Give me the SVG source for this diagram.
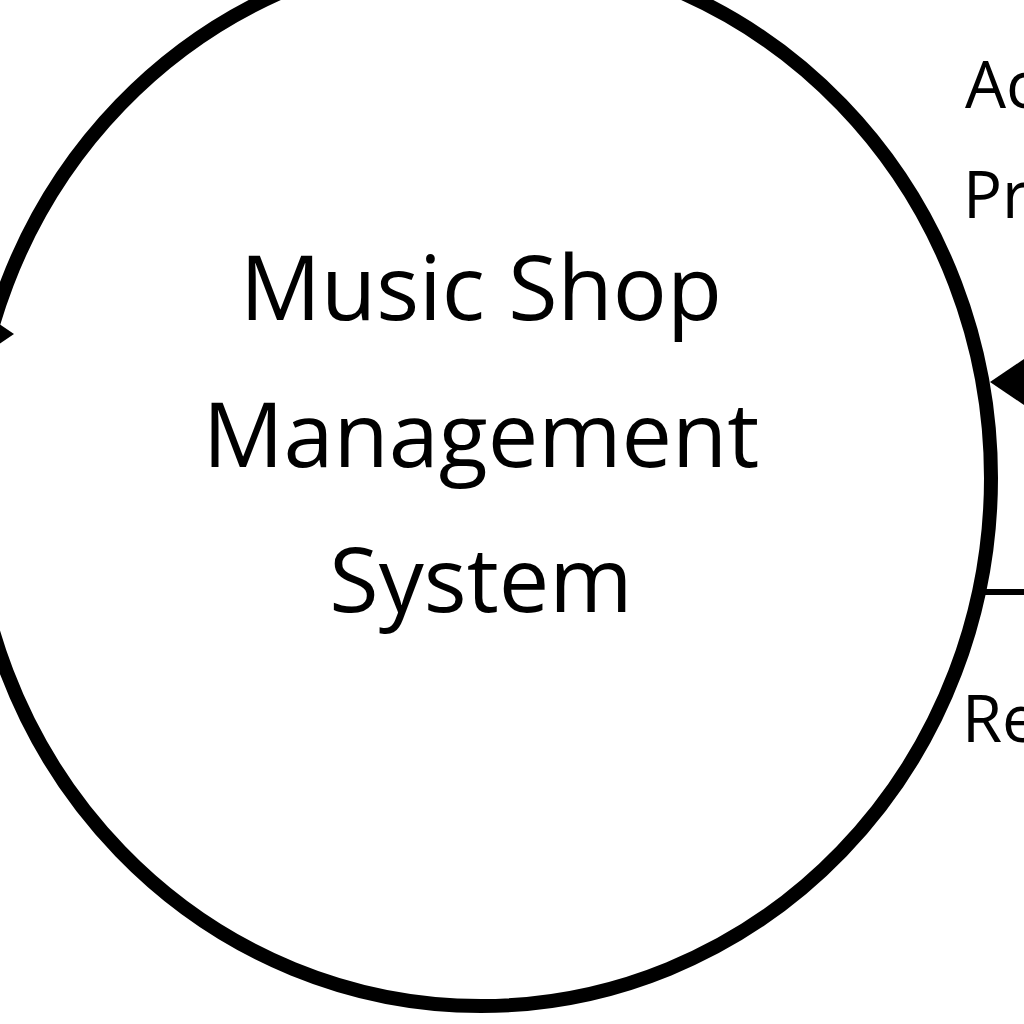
<svg xmlns="http://www.w3.org/2000/svg" width="1024" height="1024" viewBox="0 0 1024 1024">
<style>
.bg{fill:#ffffff}
.proc{fill:none;stroke:#000;stroke-width:14}
.main{font-family:"Open Sans","Liberation Sans",sans-serif;font-size:90px;fill:#000;text-anchor:middle}
.lbl{font-family:"Open Sans","Liberation Sans",sans-serif;font-size:65px;fill:#000}
.flow{fill:none;stroke:#000;stroke-width:6}
.head{fill:#000}
</style>
<rect class="bg" x="0" y="0" width="1024" height="1024"/>
<g id="process">
<ellipse class="proc" cx="481" cy="478" rx="510" ry="528"/>
<text class="main" x="481" y="320">Music Shop</text>
<text class="main" x="481" y="467">Management</text>
<text class="main" x="481" y="612">System</text>
</g>
<g id="connectors">
<line class="flow" x1="1020" y1="382" x2="1060" y2="382"/>
<polygon class="head" points="990,382 1030,355 1030,409"/>
<line class="flow" x1="984" y1="592" x2="1030" y2="592"/>
<polygon class="head" points="14,334 -26,307 -26,361"/>
</g>
<g id="labels">
<text class="lbl" x="965" y="108">Ac</text>
<text class="lbl" x="963" y="218">Pr</text>
<text class="lbl" x="962" y="742">Re</text>
</g>
</svg>
